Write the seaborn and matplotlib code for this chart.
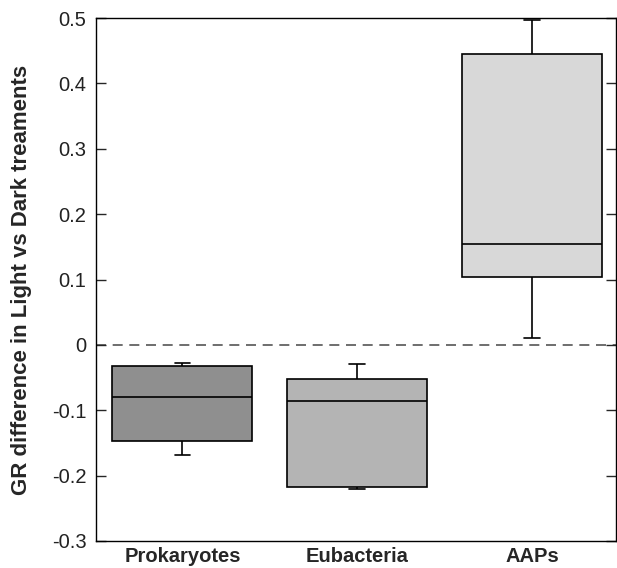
import numpy as np
import pandas as pd
import matplotlib
matplotlib.use('Agg')
import matplotlib.pyplot as plt
import seaborn as sns

# 五数概括：最小值, 下四分位, 中位数, 上四分位, 最大值
groups = ['Prokaryotes', 'Eubacteria', 'AAPs']
prokaryotes = [-0.169, -0.147, -0.080, -0.033, -0.027]
eubacteria = [-0.220, -0.217, -0.086, -0.052, -0.029]
aaps = [0.011, 0.104, 0.155, 0.445, 0.497]
box_colors = ['#8f8f8f', '#b4b4b4', '#d8d8d8']
yticks = [-0.3, -0.2, -0.1, 0, 0.1, 0.2, 0.3, 0.4, 0.5]
ytick_labels = ['-0.3', '-0.2', '-0.1', '0', '0.1', '0.2', '0.3', '0.4', '0.5']

df = pd.DataFrame({
    'group': np.repeat(groups, 5),
    'value': prokaryotes + eubacteria + aaps,
})

sns.set_style('ticks')
plt.rcParams['font.family'] = ['Liberation Sans', 'DejaVu Sans']

fig = plt.figure(figsize=(6.17, 5.68), dpi=100)
ax = fig.add_axes([96 / 617, 27 / 568, 520 / 617, 523 / 568])

sns.boxplot(data=df, x='group', y='value', hue='group', palette=box_colors,
            legend=False, width=0.8, whis=np.inf, linecolor='black',
            linewidth=1.2, saturation=1, capwidths=0.09, ax=ax)

ax.axhline(0, color='#555555', linestyle=(0, (6, 4)), linewidth=1.2, zorder=0)

ax.set_xlim(-0.494, 2.48)
ax.set_ylim(-0.3, 0.5)
ax.set_yticks(yticks)
ax.set_yticklabels(ytick_labels, fontsize=14.5, color='#222222')
ax.tick_params(axis='y', direction='in', left=True, right=True, length=7,
               width=1, pad=7)
ax.tick_params(axis='x', bottom=False, pad=1)
for lbl in ax.get_xticklabels():
    lbl.set_fontsize(14.5)
    lbl.set_fontweight('bold')
ax.set_xlabel('')
ax.set_ylabel('GR difference in Light vs Dark treaments', fontsize=16,
              fontweight='bold', labelpad=14)
for sp in ax.spines.values():
    sp.set_visible(True)
    sp.set_color('black')
    sp.set_linewidth(1)

plt.savefig('out.png', dpi=100)
